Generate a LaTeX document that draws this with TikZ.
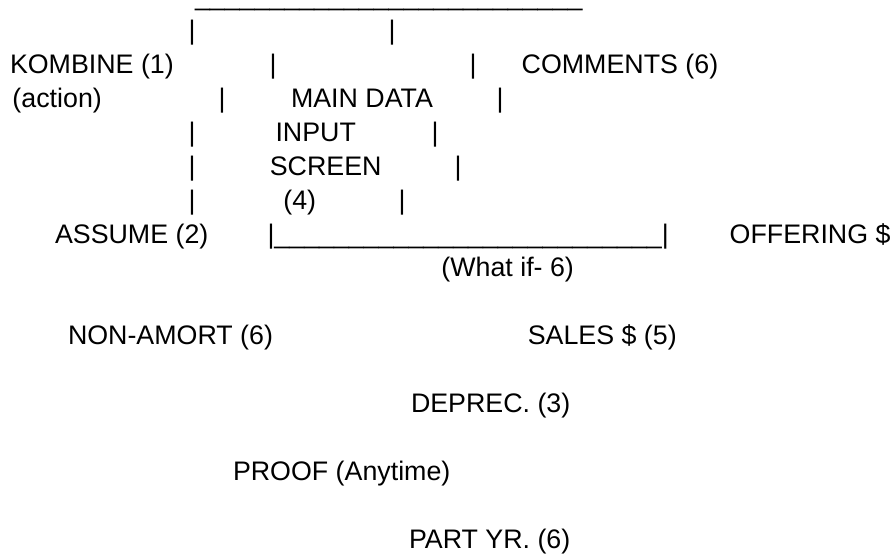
\documentclass[tikz,border=0pt]{standalone}
\usepackage{fontspec}
\setmainfont{Liberation Sans}
\newcommand{\myunders}{\_\_\_\_\_\_\_\_\_\_\_\_\_\_\_\_\_\_\_\_\_\_\_\_\_\_}
\tikzset{
  txt/.style={anchor=base west, inner sep=0pt, outer sep=0pt, font=\fontsize{26.8}{32}\selectfont},
  bar/.style={anchor=base, inner sep=0pt, outer sep=0pt, font=\fontsize{26.8}{32}\selectfont}
}
\begin{document}
\begin{tikzpicture}[x=1pt,y=-1pt]
\useasboundingbox[fill=white] (0,0) rectangle (891,554);
% row -2
\node[txt, text height=0pt] (topline) at (195,5.7) {\myunders};
% row -1
\node[bar] (p1a) at (192,39.6) {\textbar};
\node[bar] (p1b) at (392,39.6) {\textbar};
% row 0
\node[txt] (kombine) at (10,73.5) {KOMBINE (1)};
\node[bar] (p2a) at (273,73.5) {\textbar};
\node[bar] (p2b) at (473,73.5) {\textbar};
\node[txt] (comments) at (521.7,73.5) {COMMENTS (6)};
% row 1
\node[txt] (action) at (12.5,107.4) {(action)};
\node[bar] (p3a) at (222,107.4) {\textbar};
\node[txt] (maindata) at (291,107.4) {MAIN DATA};
\node[bar] (p3b) at (500,107.4) {\textbar};
% row 2
\node[bar] (p4a) at (192,141.3) {\textbar};
\node[txt] (input) at (275.5,141.3) {INPUT};
\node[bar] (p4b) at (435,141.3) {\textbar};
% row 3
\node[bar] (p5a) at (192,175.2) {\textbar};
\node[txt] (screen) at (269.8,175.2) {SCREEN};
\node[bar] (p5b) at (458,175.2) {\textbar};
% row 4
\node[bar] (p6a) at (192,209.1) {\textbar};
\node[txt] (four) at (283.4,209.1) {(4)};
\node[bar] (p6b) at (402,209.1) {\textbar};
% row 5
\node[txt] (assume) at (55,243) {ASSUME (2)};
\node[txt] (bottomline) at (267.5,243) {\textbar\myunders\textbar};
\node[txt] (offering) at (729.7,243) {OFFERING \$};
% row 6
\node[txt] (whatif) at (441.4,276.9) {(What if- 6)};
% row 8
\node[txt] (nonamort) at (68,344.7) {NON-AMORT (6)};
\node[txt] (sales) at (527.8,344.7) {SALES \$ (5)};
% row 10
\node[txt] (deprec) at (411,412.5) {DEPREC. (3)};
% row 12
\node[txt] (proof) at (233,480.3) {PROOF (Anytime)};
% row 14
\node[txt] (partyr) at (409,548.1) {PART YR. (6)};
\end{tikzpicture}
\end{document}
